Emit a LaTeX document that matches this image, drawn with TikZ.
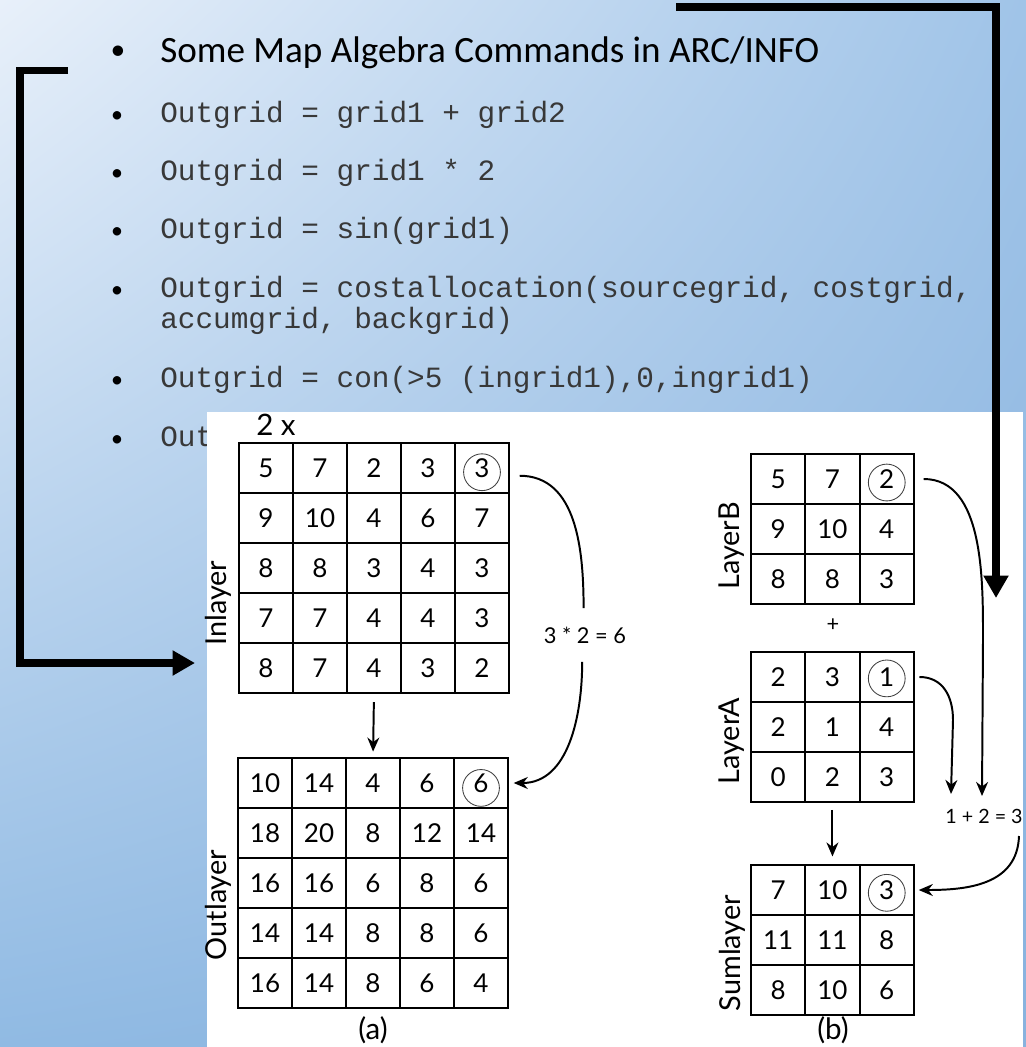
\documentclass[tikz,border=0pt]{standalone}
\usepackage{fontspec}
\setmainfont{Lato}
\newfontfamily\slidefont{Carlito}
\newfontfamily\codefont{Liberation Mono}
\usetikzlibrary{arrows.meta,positioning,shadings}

\definecolor{bgtl}{HTML}{E8F0FA}
\definecolor{bgtr}{HTML}{A0C4E8}
\definecolor{bgbl}{HTML}{90BAE3}
\definecolor{bgbr}{HTML}{88B2DE}
\definecolor{codegray}{HTML}{383838}

\tikzset{
  cell/.style={draw, line width=1.1pt, minimum width=1.35cm, minimum height=1.25cm,
    inner sep=0pt, font=\fontsize{18.5}{18.5}\selectfont},
  ring/.style={draw=black!75, circle, line width=.6pt, minimum size=.92cm, inner sep=0pt},
  layername/.style={rotate=90, font=\fontsize{20.5}{20.5}\selectfont},
  caption/.style={font=\fontsize{21}{21}\selectfont},
  calc label/.style={font=\fontsize{15.5}{15.5}\selectfont},
  dot/.style={anchor=base, inner sep=0pt, font=\slidefont\fontsize{17}{17}\selectfont},
  codeline/.style={anchor=base west, inner sep=0pt, text=codegray,
    font=\codefont\fontsize{20.9}{25}\selectfont},
  flow/.style={line width=1.4pt, -{Stealth[length=10pt,width=8.5pt]}},
  bracket/.style={line width=5pt, -{Triangle[length=16pt,width=17pt]}}
}

\begin{document}
\begin{tikzpicture}[x=0.025cm, y=-0.025cm]
  \useasboundingbox (0,0) rectangle (1026,1047);
  \shade[upper left=bgtl, upper right=bgtr, lower left=bgbl, lower right=bgbr]
    (0,0) rectangle (1026,1047);

  % slide text
  \node[dot, font=\slidefont\fontsize{21}{21}\selectfont] (dot0) at (118,59) {•};
  \node[anchor=base west, inner sep=0pt, font=\slidefont\fontsize{26.4}{30}\selectfont]
    (title) at (160,62) {Some Map Algebra Commands in ARC/INFO};
  \node[dot] (dot1) at (117,122) {•};
  \node[codeline] (cmd1) at (160,122) {Outgrid = grid1 + grid2};
  \node[dot] (dot2) at (117,180) {•};
  \node[codeline] (cmd2) at (160,180) {Outgrid = grid1 * 2};
  \node[dot] (dot3) at (117,238) {•};
  \node[codeline] (cmd3) at (160,238) {Outgrid = sin(grid1)};
  \node[dot] (dot4) at (117,297) {•};
  \node[codeline] (cmd4) at (160,297) {Outgrid = costallocation(sourcegrid, costgrid,};
  \node[codeline] (cmd4b) at (160,328) {accumgrid, backgrid)};
  \node[dot] (dot5) at (117,387) {•};
  \node[codeline] (cmd5) at (160,387) {Outgrid = con(>5 (ingrid1),0,ingrid1)};
  \node[dot] (dot6) at (117,446) {•};
  \node[codeline] (cmd6) at (160,446) {Out};

  % pasted figure
  \fill[white] (207,412) rectangle (1023,1047);

  % (a) Inlayer and Outlayer
  \foreach \vals [count=\r] in {{5,7,2,3,3},{9,10,4,6,7},{8,8,3,4,3},{7,7,4,4,3},{8,7,4,3,2}}
    \foreach \v [count=\c] in \vals
      \node[cell] (in-\r-\c) at ({239+54*\c-27},{443+50*\r-25}) {\v};
  \foreach \vals [count=\r] in {{10,14,4,6,6},{18,20,8,12,14},{16,16,6,8,6},{14,14,8,8,6},{16,14,8,6,4}}
    \foreach \v [count=\c] in \vals
      \node[cell] (out-\r-\c) at ({238+54*\c-27},{758+50*\r-25}) {\v};
  \node[ring] (in-ring) at ([yshift=-3pt]in-1-5) {};
  \node[ring] (out-ring) at ([yshift=-3.5pt]out-1-5) {};

  \node[caption] (times) at (276,425) {2 x};
  \node[layername] (in-name) at (218,603) {Inlayer};
  \node[layername] (out-name) at (218,905) {Outlayer};
  \node[caption] (cap-a) at (373,1030) {(a)};
  \node[calc label, inner ysep=13pt] (mul) at (585,635) {3 * 2 = 6};

  \draw[flow, shorten <=6pt, shorten >=4pt] (in-5-3.south) -- (out-1-3.north);
  \draw[line width=1.4pt] ([xshift=7pt,yshift=-5.5pt]in-1-5.east)
    to[out=0, in=90] ([xshift=-1pt]mul.north);
  \draw[flow] ([xshift=-2pt]mul.south) to[out=-90, in=0] ([xshift=3.5pt]out-1-5.east);

  % (b) LayerB + LayerA = Sumlayer
  \foreach \vals [count=\r] in {{5,7,2},{9,10,4},{8,8,3}}
    \foreach \v [count=\c] in \vals
      \node[cell] (b-\r-\c) at ({751+54.3*\c-27.15},{454+50*\r-25}) {\v};
  \foreach \vals [count=\r] in {{2,3,1},{2,1,4},{0,2,3}}
    \foreach \v [count=\c] in \vals
      \node[cell] (a-\r-\c) at ({751+54.3*\c-27.15},{652+50*\r-25}) {\v};
  \foreach \vals [count=\r] in {{7,10,3},{11,11,8},{8,10,6}}
    \foreach \v [count=\c] in \vals
      \node[cell] (s-\r-\c) at ({751+54.3*\c-27.15},{865+50*\r-25}) {\v};
  \node[ring] (b-ring) at ([yshift=-2.5pt]b-1-3) {};
  \node[ring] (a-ring) at ([yshift=-1pt]a-1-3) {};
  \node[ring] (s-ring) at ([yshift=-2pt]s-1-3) {};

  \node[layername] (b-name) at (732,546) {LayerB};
  \node[layername] (a-name) at (732,741) {LayerA};
  \node[layername] (s-name) at (732,953) {Sumlayer};
  \node[calc label] (plus) at (833,625) {+};
  \node[caption] (cap-b) at (833,1030) {(b)};
  \node[calc label, font=\fontsize{14}{14}\selectfont] (sum) at (984,816) {1 + 2 = 3};

  \coordinate (a-tip) at (951,794);
  \coordinate (b-tip) at (982,796);
  \coordinate (sum-out) at (1019,836);

  \draw[flow, shorten <=5pt, shorten >=5.5pt] (a-3-2.south) -- (s-1-2.north);
  \draw[flow] ([xshift=6.5pt]b-1-3.east) to[out=0, in=90, looseness=.9] (983,640) -- (b-tip);
  \draw[flow] ([xshift=3.5pt]a-1-3.east) to[out=0, in=90, looseness=1.1] (953,720) -- (a-tip);
  \draw[flow] (sum-out) to[out=-92, in=0, looseness=1.1] ([xshift=3pt]s-1-3.east);

  % thick brackets of the slide
  \draw[bracket] (68,70.5) -- (20,70.5) -- (20,663) -- (195,663);
  \draw[bracket] (676,7) -- (996,7) -- (996,598);
\end{tikzpicture}
\end{document}
